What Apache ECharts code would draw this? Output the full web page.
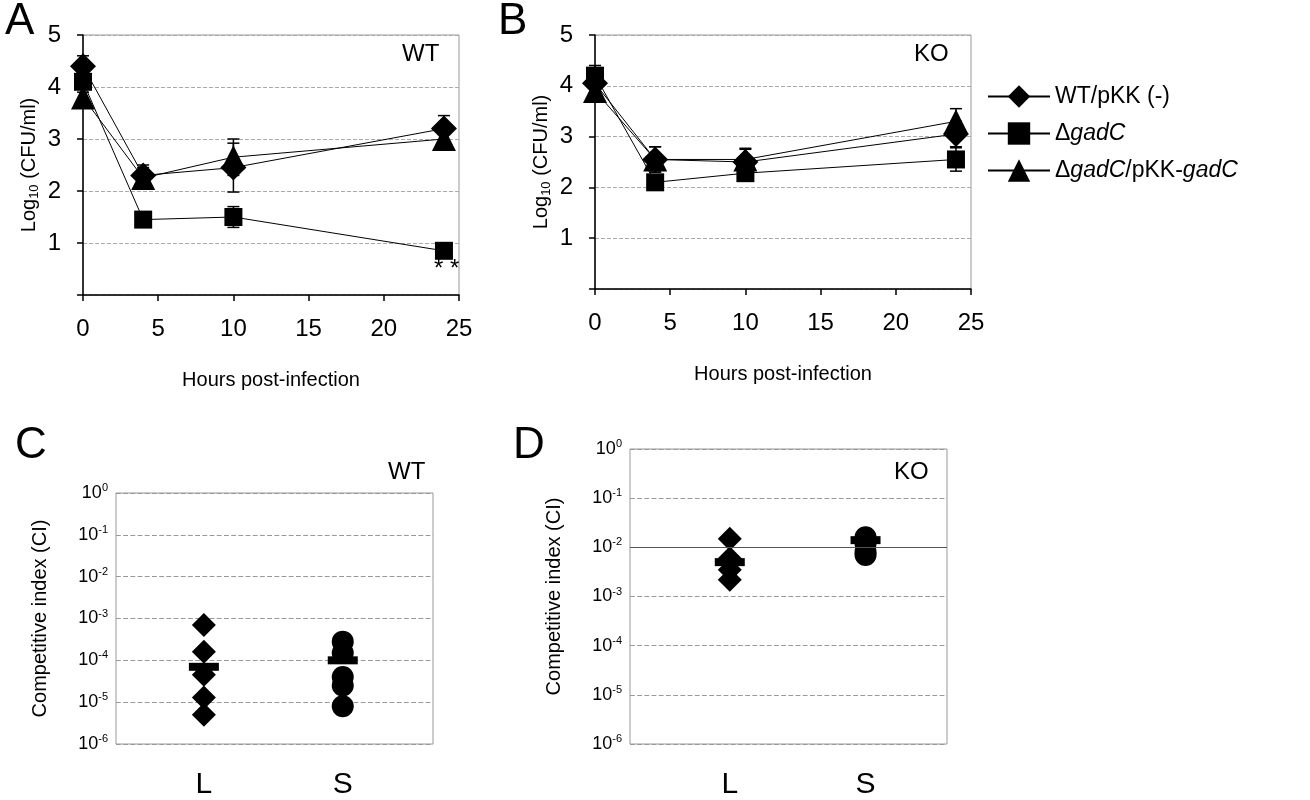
<!DOCTYPE html>
<html>
<head>
<meta charset="utf-8">
<script src="https://cdn.jsdelivr.net/npm/echarts@6/dist/echarts.min.js"></script>
<style>html,body{margin:0;padding:0;background:#fff}#chartMain{width:1310px;height:800px}</style>
</head>
<body>
<div id="chartMain"></div>
<script>
// time course data (hours, log10 CFU/ml)
var hours = [0, 4, 10, 24];
var wtA = [4.4, 2.3, 2.45, 3.2];
var wtAErr = [0.2, 0.2, 0.47, 0.25];
var gadA = [4.1, 1.45, 1.5, 0.85];
var gadAErr = [0.1, 0.05, 0.2, 0.05];
var compA = [3.8, 2.25, 2.65, 3.0];
var compAErr = [0.1, 0.2, 0.35, 0.2];

var wtB = [4.05, 2.55, 2.5, 3.05];
var wtBErr = [0.1, 0.25, 0.25, 0.25];
var gadB = [4.2, 2.1, 2.28, 2.55];
var gadBErr = [0.2, 0.05, 0.05, 0.23];
var compB = [3.9, 2.55, 2.55, 3.3];
var compBErr = [0.1, 0.25, 0.22, 0.25];

// competitive index
var ciCats = ['L', 'S'];
var ciWtL = [7e-4, 1.6e-4, 4.5e-5, 1.3e-5, 5e-6];
var ciWtS = [2.8e-4, 1.5e-4, 4e-5, 2.5e-5, 8e-6];
var ciWtMean = [7e-5, 1e-4];
var ciKoL = [1.5e-2, 6e-3, 3.5e-3, 2.2e-3];
var ciKoS = [1.6e-2, 1.2e-2, 8e-3, 7e-3];
var ciKoMean = [5e-3, 1.4e-2];

var FONT = 'Liberation Sans, Arial, sans-serif';

function pairs(xs, ys) {
    var out = [];
    for (var i = 0; i < xs.length; i++) { out.push([xs[i], ys[i]]); }
    return out;
}
function errData(xs, ys, es) {
    var out = [];
    for (var i = 0; i < xs.length; i++) { out.push([xs[i], ys[i] - es[i], ys[i] + es[i]]); }
    return out;
}
function errSeries(idx, xs, ys, es) {
    return {
        type: 'custom', xAxisIndex: idx, yAxisIndex: idx, silent: true, z: 1,
        data: errData(xs, ys, es),
        renderItem: function (params, api) {
            var lo = api.coord([api.value(0), api.value(1)]);
            var hi = api.coord([api.value(0), api.value(2)]);
            var w = 6;
            var st = {stroke: '#000', lineWidth: 1.5};
            return {type: 'group', children: [
                {type: 'line', shape: {x1: lo[0], y1: lo[1], x2: hi[0], y2: hi[1]}, style: st},
                {type: 'line', shape: {x1: lo[0] - w, y1: lo[1], x2: lo[0] + w, y2: lo[1]}, style: st},
                {type: 'line', shape: {x1: hi[0] - w, y1: hi[1], x2: hi[0] + w, y2: hi[1]}, style: st}
            ]};
        }
    };
}
function lineSeries(idx, name, ys, symbol, size) {
    return {
        type: 'line', name: name, xAxisIndex: idx, yAxisIndex: idx, data: pairs(hours, ys),
        symbol: symbol, symbolSize: size, z: 3,
        lineStyle: {color: '#000', width: 1}, itemStyle: {color: '#000', opacity: 1}
    };
}
function timeX(idx) {
    return {
        type: 'value', gridIndex: idx, min: 0, max: 25, interval: 5,
        name: 'Hours post-infection', nameLocation: 'middle', nameGap: 75,
        nameTextStyle: {fontFamily: FONT, fontSize: 20, color: '#000'},
        axisLine: {lineStyle: {color: '#000', width: 1.5}},
        axisTick: {inside: false, length: 6, lineStyle: {color: '#000', width: 1.5}},
        axisLabel: {fontFamily: FONT, fontSize: 24, color: '#000', margin: 22},
        splitLine: {show: false}
    };
}
function timeY(idx) {
    return {
        type: 'value', gridIndex: idx, min: 0, max: 5, interval: 1,
        name: '{n|Log}{s|10}{n| (CFU/ml)}', nameLocation: 'middle', nameGap: 42,
        nameTextStyle: {rich: {
            n: {fontFamily: FONT, fontSize: 20, color: '#000'},
            s: {fontFamily: FONT, fontSize: 13, color: '#000', verticalAlign: 'bottom', padding: [10, 0, 0, 0]}
        }},
        axisLine: {show: true, lineStyle: {color: '#000', width: 1.5}},
        axisTick: {show: true, length: 6, lineStyle: {color: '#000', width: 1.5}},
        axisLabel: {fontFamily: FONT, fontSize: 24, color: '#000', margin: 22,
            formatter: function (v) { return v === 0 ? '' : v; }},
        splitLine: {show: true, lineStyle: {color: '#aaa', type: 'dashed', width: 1}}
    };
}
function ciX(idx, mn, mx) {
    return {
        type: 'value', gridIndex: idx, min: mn, max: mx,
        axisLine: {show: false}, axisTick: {show: false}, splitLine: {show: false},
        axisLabel: {customValues: [1, 2], fontFamily: FONT, fontSize: 30, color: '#000', margin: 26,
            formatter: function (v) { return ciCats[Math.round(v) - 1]; }}
    };
}
function ciY(idx) {
    return {
        type: 'log', logBase: 10, gridIndex: idx, min: 1e-6, max: 1,
        name: 'Competitive index (CI)', nameLocation: 'middle', nameGap: 66,
        nameTextStyle: {fontFamily: FONT, fontSize: 20, color: '#000'},
        axisLine: {show: false}, axisTick: {show: false},
        axisLabel: {margin: 8, formatter: function (v) {
            var e = Math.round(Math.log10(v));
            return '{b|10}{s|' + e + '}';
        }, rich: {
            b: {fontFamily: FONT, fontSize: 18, color: '#000'},
            s: {fontFamily: FONT, fontSize: 11, color: '#000', verticalAlign: 'top', padding: [0, 0, 10, 0]}
        }},
        splitLine: {show: true, lineStyle: {color: '#999', type: 'dashed', width: 1.2}}
    };
}
function ciSeries(idx, x, vals, symbol, size) {
    var d = [];
    for (var i = 0; i < vals.length; i++) { d.push([x, vals[i]]); }
    return {type: 'scatter', xAxisIndex: idx, yAxisIndex: idx, data: d, symbol: symbol, symbolSize: size,
        itemStyle: {color: '#000', opacity: 1}, z: 3};
}
function meanSeries(idx, means, refLine) {
    return {type: 'scatter', xAxisIndex: idx, yAxisIndex: idx, data: [[1, means[0]], [2, means[1]]],
        symbol: 'rect', symbolSize: [30, 8], itemStyle: {color: '#000', opacity: 1}, z: 4,
        markLine: {silent: true, symbol: 'none', label: {show: false},
            lineStyle: {color: '#555', type: 'solid', width: 1.2}, data: [{yAxis: refLine}]}};
}
function label(x, y, t, size) {
    return {type: 'text', left: x, top: y, style: {text: t, fontFamily: FONT, fontSize: size, fill: '#000'}};
}

var option = {
    backgroundColor: '#fff',
    animation: false,
    grid: [
        {left: 83, top: 35, width: 376, height: 260, show: true, borderColor: '#999', borderWidth: 1},
        {left: 595, top: 35, width: 376, height: 254, show: true, borderColor: '#999', borderWidth: 1},
        {left: 116, top: 493, width: 317, height: 252, show: true, borderColor: '#999', borderWidth: 1},
        {left: 630, top: 449, width: 317, height: 304, show: true, borderColor: '#999', borderWidth: 1}
    ],
    xAxis: [timeX(0), timeX(1), ciX(2, 0.367, 2.65), ciX(3, 0.265, 2.6)],
    yAxis: [timeY(0), timeY(1), ciY(2), ciY(3)],
    legend: {
        orient: 'vertical', left: 982, top: 80, itemWidth: 62, itemHeight: 28, itemGap: 14,
        data: ['WT/pKK (-)', 'gadC', 'gadC/pKK-gadC'],
        formatter: function (n) {
            if (n === 'gadC') return '{n|Δ}{i|gadC}';
            if (n === 'gadC/pKK-gadC') return '{n|Δ}{i|gadC}{n|/pKK-}{i|gadC}';
            return '{n|' + n + '}';
        },
        textStyle: {rich: {
            n: {fontFamily: FONT, fontSize: 23, color: '#000'},
            i: {fontFamily: FONT, fontSize: 23, color: '#000', fontStyle: 'italic'}
        }}
    },
    graphic: [
        label(5, 0, 'A', 44), label(498, 0, 'B', 44), label(15, 424, 'C', 44), label(513, 424, 'D', 44),
        label(402, 42, 'WT', 24), label(914, 42, 'KO', 24),
        label(388, 460, 'WT', 24), label(894, 460, 'KO', 24),
        label(434, 257, '* *', 24)
    ],
    series: [
        errSeries(0, hours, wtA, wtAErr), errSeries(0, hours, gadA, gadAErr), errSeries(0, hours, compA, compAErr),
        lineSeries(0, 'WT/pKK (-)', wtA, 'diamond', 26),
        lineSeries(0, 'gadC', gadA, 'rect', 18),
        lineSeries(0, 'gadC/pKK-gadC', compA, 'triangle', 24),
        errSeries(1, hours, wtB, wtBErr), errSeries(1, hours, gadB, gadBErr), errSeries(1, hours, compB, compBErr),
        lineSeries(1, 'WT/pKK (-)', wtB, 'diamond', 26),
        lineSeries(1, 'gadC', gadB, 'rect', 18),
        lineSeries(1, 'gadC/pKK-gadC', compB, 'triangle', 24),
        ciSeries(2, 1, ciWtL, 'diamond', 24), ciSeries(2, 2, ciWtS, 'circle', 22), meanSeries(2, ciWtMean, 1e-4),
        ciSeries(3, 1, ciKoL, 'diamond', 24), ciSeries(3, 2, ciKoS, 'circle', 22), meanSeries(3, ciKoMean, 1e-2)
    ]
};

var mychart = echarts.init(document.getElementById('chartMain'));
mychart.setOption(option);
</script>
</body>
</html>
